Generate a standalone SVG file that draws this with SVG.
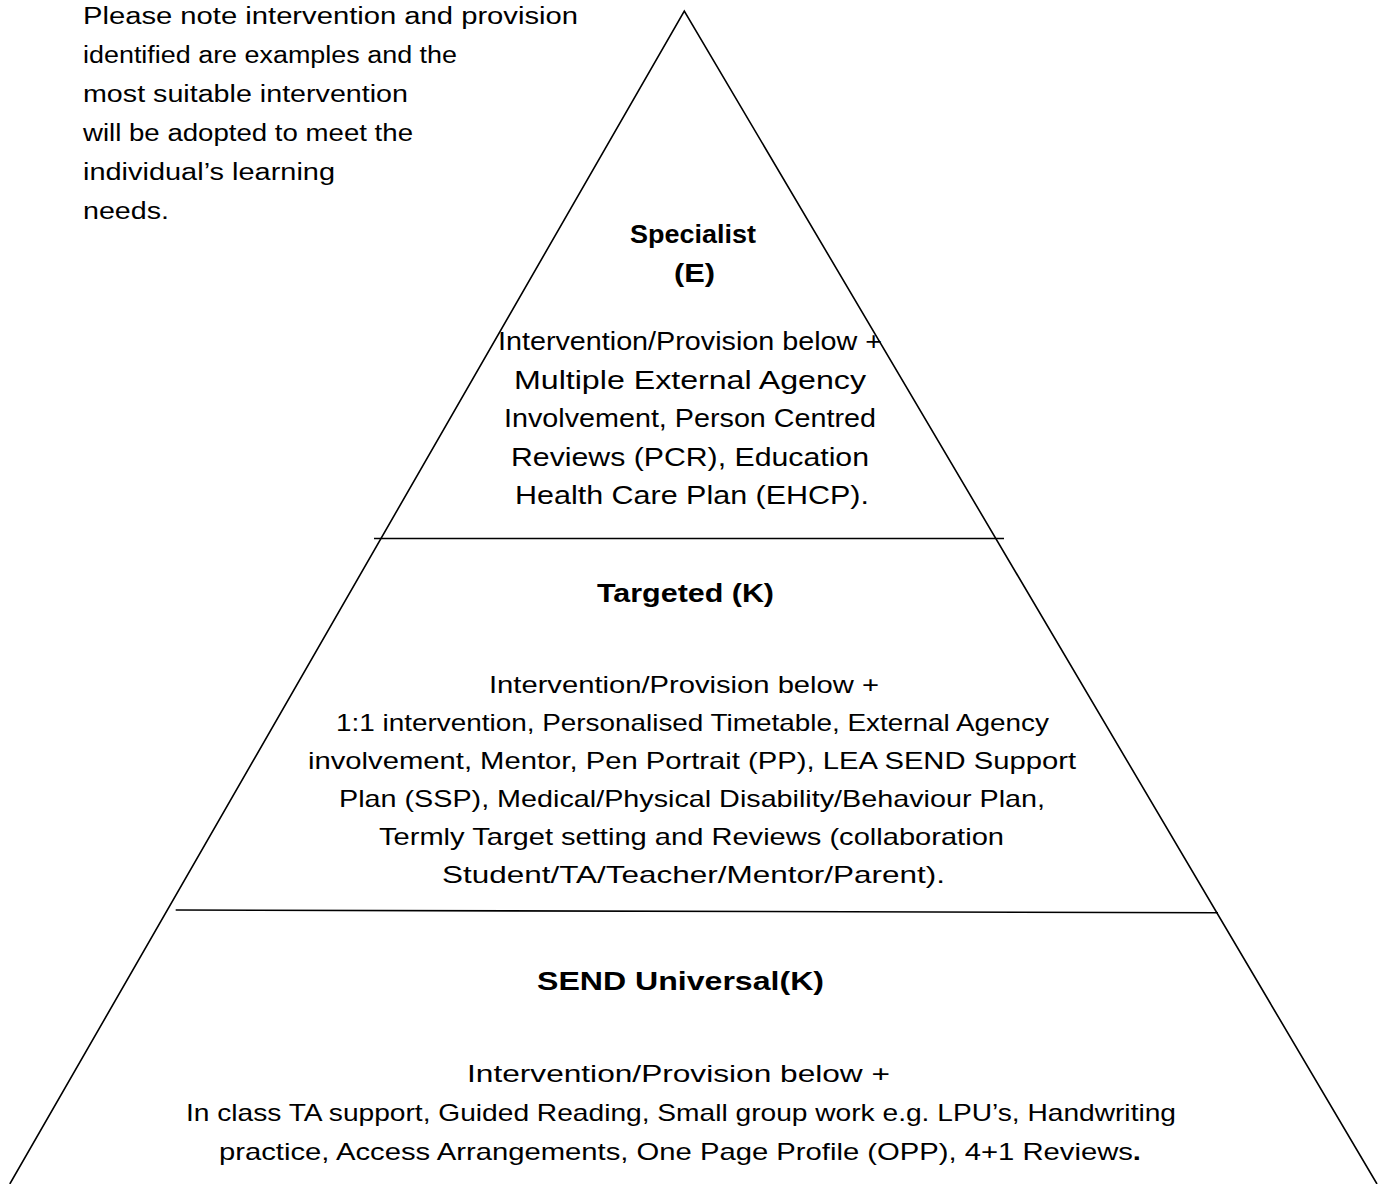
<svg xmlns="http://www.w3.org/2000/svg" width="1387" height="1184" viewBox="0 0 1387 1184">
<style>
  text { font-family: "Liberation Sans", Arial, sans-serif; fill: #000; }
  .note { font-size: 23px; }
  .head { font-size: 25px; font-weight: bold; }
  .body { font-size: 24px; }
  .bodyL { font-size: 25px; }
  .edge { fill: none; stroke: #000; stroke-width: 1.6; }
</style>
<rect width="1387" height="1184" fill="#fff"/>
<g id="connectors">
  <path class="edge" d="M9.8,1184 L684.3,11 L1377,1184"/>
  <line class="edge" x1="374" y1="538.5" x2="1004" y2="538.5"/>
  <line class="edge" x1="175.7" y1="910" x2="1218" y2="912.7"/>
</g>
<g id="note">
  <text class="note" x="83" y="24" textLength="495" lengthAdjust="spacingAndGlyphs">Please note intervention and provision</text>
  <text class="note" x="83" y="63" textLength="374" lengthAdjust="spacingAndGlyphs">identified are examples and the</text>
  <text class="note" x="83" y="102" textLength="325" lengthAdjust="spacingAndGlyphs">most suitable intervention</text>
  <text class="note" x="83" y="141" textLength="330" lengthAdjust="spacingAndGlyphs">will be adopted to meet the</text>
  <text class="note" x="83" y="180" textLength="252" lengthAdjust="spacingAndGlyphs">individual’s learning</text>
  <text class="note" x="83" y="219" textLength="86" lengthAdjust="spacingAndGlyphs">needs.</text>
</g>
<g id="tier-specialist">
  <text class="head" x="630" y="243" textLength="126" lengthAdjust="spacingAndGlyphs">Specialist</text>
  <text class="head" x="674" y="282" textLength="41" lengthAdjust="spacingAndGlyphs">(E)</text>
  <text class="bodyL" x="498" y="350" textLength="384" lengthAdjust="spacingAndGlyphs">Intervention/Provision below +</text>
  <text class="bodyL" x="514" y="388.5" textLength="352" lengthAdjust="spacingAndGlyphs">Multiple External Agency</text>
  <text class="bodyL" x="504" y="427" textLength="372" lengthAdjust="spacingAndGlyphs">Involvement, Person Centred</text>
  <text class="bodyL" x="511" y="465.5" textLength="358" lengthAdjust="spacingAndGlyphs">Reviews (PCR), Education</text>
  <text class="bodyL" x="515" y="504" textLength="354" lengthAdjust="spacingAndGlyphs">Health Care Plan (EHCP).</text>
</g>
<g id="tier-targeted">
  <text class="head" x="597" y="602" textLength="177" lengthAdjust="spacingAndGlyphs">Targeted (K)</text>
  <text class="body" x="489" y="693" textLength="390" lengthAdjust="spacingAndGlyphs">Intervention/Provision below +</text>
  <text class="body" x="336" y="731" textLength="713" lengthAdjust="spacingAndGlyphs">1:1 intervention, Personalised Timetable, External Agency</text>
  <text class="body" x="308" y="769" textLength="768" lengthAdjust="spacingAndGlyphs">involvement, Mentor, Pen Portrait (PP), LEA SEND Support</text>
  <text class="body" x="339" y="807" textLength="706" lengthAdjust="spacingAndGlyphs">Plan (SSP), Medical/Physical Disability/Behaviour Plan,</text>
  <text class="body" x="379" y="845" textLength="625" lengthAdjust="spacingAndGlyphs">Termly Target setting and Reviews (collaboration</text>
  <text class="body" x="442" y="883" textLength="503" lengthAdjust="spacingAndGlyphs">Student/TA/Teacher/Mentor/Parent).</text>
</g>
<g id="tier-universal">
  <text class="head" x="537" y="990" textLength="287" lengthAdjust="spacingAndGlyphs">SEND Universal(K)</text>
  <text class="body" x="467" y="1082" textLength="423" lengthAdjust="spacingAndGlyphs">Intervention/Provision below +</text>
  <text class="body" x="186" y="1121" textLength="990" lengthAdjust="spacingAndGlyphs">In class TA support, Guided Reading, Small group work e.g. LPU’s, Handwriting</text>
  <text class="body" x="219" y="1160" textLength="922" lengthAdjust="spacingAndGlyphs">practice, Access Arrangements, One Page Profile (OPP), 4+1 Reviews<tspan font-weight="bold">.</tspan></text>
</g>
</svg>
